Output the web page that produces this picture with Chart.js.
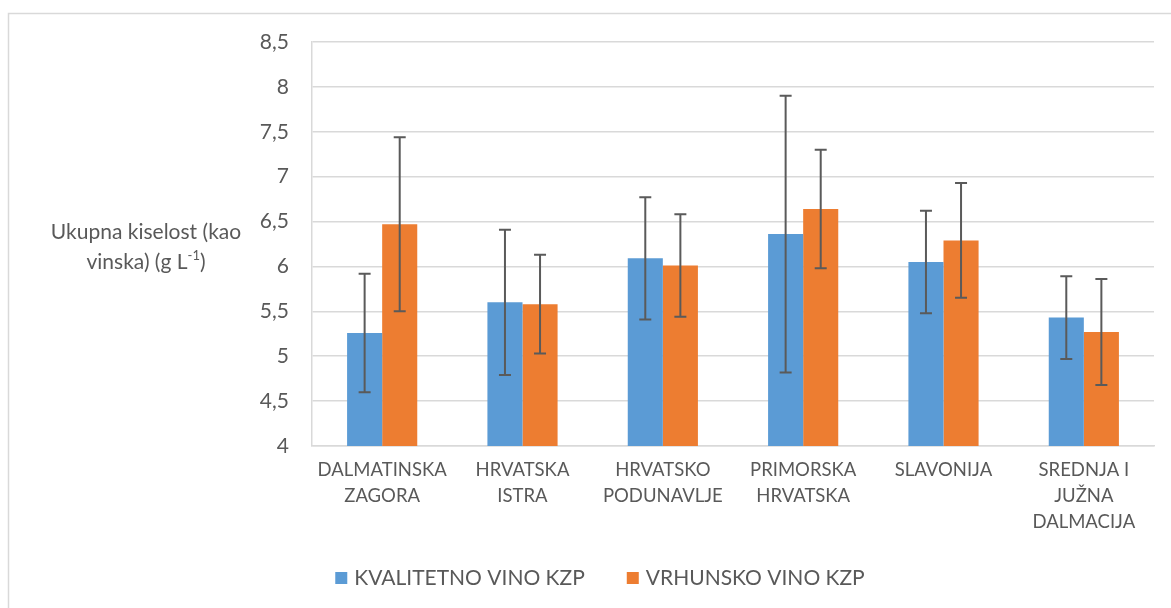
<!DOCTYPE html>
<html lang="hr">
<head>
<meta charset="utf-8">
<title>Ukupna kiselost</title>
<style>
  body { margin: 0; background: #fff; }
  canvas { display: block; }
</style>
</head>
<body>
<canvas id="myChart" width="1171" height="608"></canvas>

<script src="https://cdn.jsdelivr.net/npm/chart.js"></script>
<script>
// podaci
const categories = [
  ['DALMATINSKA', 'ZAGORA'],
  ['HRVATSKA', 'ISTRA'],
  ['HRVATSKO', 'PODUNAVLJE'],
  ['PRIMORSKA', 'HRVATSKA'],
  ['SLAVONIJA'],
  ['SREDNJA I', 'JUŽNA', 'DALMACIJA']
];
const kvalitetno = [5.26, 5.60, 6.09, 6.36, 6.05, 5.43];
const kvalitetnoErr = [0.66, 0.81, 0.68, 1.54, 0.57, 0.46];
const vrhunsko = [6.47, 5.58, 6.01, 6.64, 6.29, 5.27];
const vrhunskoErr = [0.97, 0.55, 0.57, 0.66, 0.64, 0.59];
const yMin = 4, yMax = 8.5, yStep = 0.5;

const FONT = 'Lato';
const TEXT = '#595959';
const GRID = '#d9d9d9';

// okvir oko grafa
const framePlugin = {
  id: 'frame',
  beforeDraw(chart) {
    const c = chart.ctx;
    c.save();
    c.fillStyle = '#fff';
    c.fillRect(0, 0, chart.width, chart.height);
    c.strokeStyle = GRID;
    c.lineWidth = 1.5;
    c.strokeRect(8.5, 13.5, chart.width + 20, chart.height + 20);
    c.restore();
  }
};

// error bars
const errorBars = {
  id: 'errorBars',
  afterDatasetsDraw(chart) {
    const c = chart.ctx;
    const y = chart.scales.y;
    c.save();
    c.strokeStyle = '#5a5a5a';
    c.lineWidth = 2;
    chart.data.datasets.forEach((ds, i) => {
      const meta = chart.getDatasetMeta(i);
      meta.data.forEach((bar, j) => {
        const v = ds.data[j], e = ds.errors[j];
        const top = y.getPixelForValue(v + e);
        const bot = y.getPixelForValue(v - e);
        c.beginPath();
        c.moveTo(bar.x, top); c.lineTo(bar.x, bot);
        c.moveTo(bar.x - 6, top); c.lineTo(bar.x + 6, top);
        c.moveTo(bar.x - 6, bot); c.lineTo(bar.x + 6, bot);
        c.stroke();
      });
    });
    c.restore();
  }
};

// naslov y osi (vodoravno) i legenda
const textPlugin = {
  id: 'texts',
  afterDraw(chart) {
    const c = chart.ctx;
    c.save();
    c.fillStyle = TEXT;
    c.textBaseline = 'middle';
    c.font = '21px ' + FONT;
    c.textAlign = 'center';
    c.fillText('Ukupna kiselost (kao', 146, 232);
    // drugi red sa superskriptom
    const a = 'vinska) (g L', sup = '-1', b = ')';
    c.font = '21px ' + FONT;
    const wa = c.measureText(a).width, wb = c.measureText(b).width;
    c.font = '13px ' + FONT;
    const ws = c.measureText(sup).width;
    let x = 146 - (wa + ws + wb) / 2;
    c.textAlign = 'left';
    c.font = '21px ' + FONT;
    c.fillText(a, x, 262); x += wa;
    c.font = '13px ' + FONT;
    c.fillText(sup, x, 256); x += ws;
    c.font = '21px ' + FONT;
    c.fillText(b, x, 262);

    // legenda
    const box = 12, gap = 7, itemGap = 42, ly = 578;
    c.font = '21px ' + FONT;
    const items = chart.data.datasets.map(ds => ({
      label: ds.label, color: ds.backgroundColor, w: c.measureText(ds.label).width
    }));
    let total = items.reduce((s, it) => s + box + gap + it.w, 0) + itemGap * (items.length - 1);
    x = 600 - total / 2;
    items.forEach(it => {
      c.fillStyle = it.color;
      c.fillRect(x, ly - box / 2, box, box);
      x += box + gap;
      c.fillStyle = TEXT;
      c.fillText(it.label, x, ly);
      x += it.w + itemGap;
    });
    c.restore();
  }
};

const ctx = document.getElementById('myChart');
new Chart(ctx, {
  type: 'bar',
  data: {
    labels: categories,
    datasets: [
      { label: 'KVALITETNO VINO KZP', data: kvalitetno, errors: kvalitetnoErr,
        backgroundColor: '#5b9bd5', categoryPercentage: 0.5, barPercentage: 1.0 },
      { label: 'VRHUNSKO VINO KZP', data: vrhunsko, errors: vrhunskoErr,
        backgroundColor: '#ed7d31', categoryPercentage: 0.5, barPercentage: 1.0 }
    ]
  },
  options: {
    responsive: false,
    devicePixelRatio: 1,
    animation: false,
    layout: { padding: { left: 0, right: 17, top: 42, bottom: 0 } },
    plugins: { legend: { display: false }, tooltip: { enabled: false } },
    scales: {
      x: {
        grid: { display: false, drawTicks: false },
        border: { display: true, color: GRID, width: 1.5 },
        ticks: { color: TEXT, font: { family: FONT, size: 18.5, lineHeight: '26px' }, padding: 11, maxRotation: 0, autoSkip: false },
        afterFit(scale) { scale.height = 162; }
      },
      y: {
        min: yMin, max: yMax,
        grid: { color: GRID, lineWidth: 1.5, drawTicks: false },
        border: { display: true, color: GRID, width: 1.5 },
        ticks: {
          stepSize: yStep, color: TEXT, padding: 23,
          font: { family: FONT, size: 21 },
          callback: v => String(v).replace('.', ',')
        },
        afterFit(scale) { scale.width = 312; }
      }
    }
  },
  plugins: [framePlugin, errorBars, textPlugin]
});
</script>
</body>
</html>
